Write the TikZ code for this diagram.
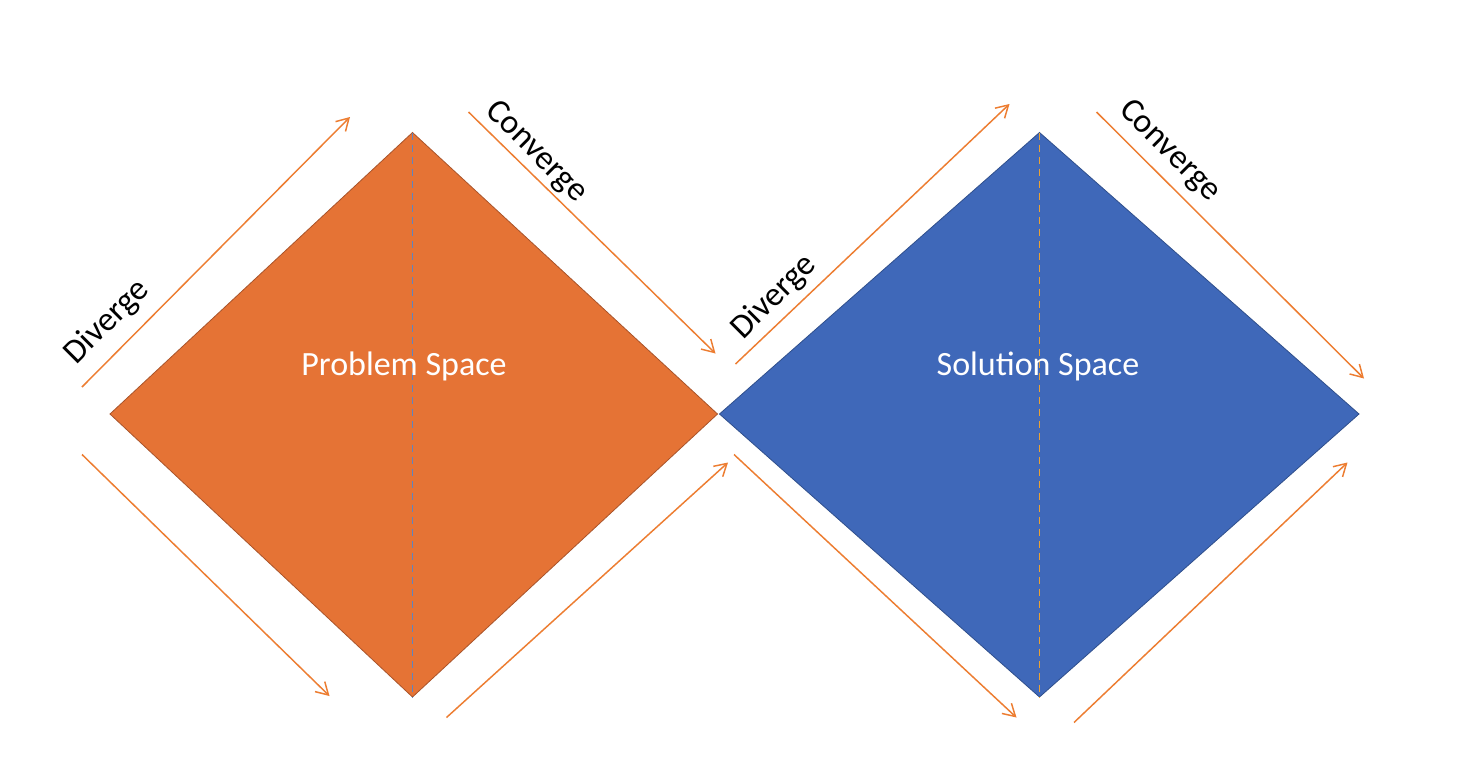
\documentclass[tikz,border=0pt]{standalone}
\usepackage{fontspec}
\setmainfont{Carlito}
\usetikzlibrary{arrows.meta}
\definecolor{orfill}{HTML}{E57335}
\definecolor{oredge}{HTML}{A9542A}
\definecolor{blfill}{HTML}{3F68B9}
\definecolor{bledge}{HTML}{2F4F8C}
\definecolor{arrcol}{HTML}{ED7D31}
\definecolor{dashblue}{HTML}{6084BE}
\definecolor{dashyellow}{HTML}{E9A236}
\tikzset{
  flow/.style={draw=arrcol, line width=1.1pt, -{Straight Barb[length=9pt,width=10.5pt]}},
  bigtxt/.style={font=\fontsize{25.5}{30}\selectfont, inner sep=0pt},
  midline/.style={line width=1.3pt, dash pattern=on 5.5pt off 3.5pt},
}
\begin{document}
\begin{tikzpicture}[x=0.75pt,y=-0.75pt]
\useasboundingbox (0,0) rectangle (1468,771);
\fill[white] (0,0) rectangle (1468,771);
% diamond vertices
\coordinate (pL) at (110,414);
\coordinate (pT) at (412.5,132.5);
\coordinate (pR) at (717.5,414);
\coordinate (pB) at (412.5,697);
\coordinate (sL) at (719.5,414);
\coordinate (sT) at (1039.5,132.5);
\coordinate (sR) at (1359,414);
\coordinate (sB) at (1039.5,697);
\filldraw[fill=orfill, draw=oredge, line width=0.6pt] (pL) -- (pT) -- (pR) -- (pB) -- cycle;
\filldraw[fill=blfill, draw=bledge, line width=0.6pt] (sL) -- (sT) -- (sR) -- (sB) -- cycle;
\draw[midline, draw=dashblue] (pT) -- (pB);
\draw[midline, draw=dashyellow] (sT) -- (sB);
% texts
\node[bigtxt, text=white, anchor=base] (ptxt) at (404,375) {Problem Space};
\node[bigtxt, text=white, anchor=base] (stxt) at (1038,375) {Solution Space};
% arrows
\coordinate (a1s) at (82,387);   \coordinate (a1e) at (350,117);
\coordinate (a2s) at (468.5,112);\coordinate (a2e) at (715.5,353.5);
\coordinate (a3s) at (82,454.5); \coordinate (a3e) at (329.5,696);
\coordinate (a4s) at (446.5,717.5);\coordinate (a4e) at (728,462.5);
\coordinate (a5s) at (735.5,364);\coordinate (a5e) at (1009.5,104);
\coordinate (a6s) at (1096.5,112);\coordinate (a6e) at (1364,378.5);
\coordinate (a7s) at (734,454.5);\coordinate (a7e) at (1016.5,717.5);
\coordinate (a8s) at (1074,722.5);\coordinate (a8e) at (1347.5,462.5);
\draw[flow] (a1s) -- (a1e);
\draw[flow] (a2s) -- (a2e);
\draw[flow] (a3s) -- (a3e);
\draw[flow] (a4s) -- (a4e);
\draw[flow] (a5s) -- (a5e);
\draw[flow] (a6s) -- (a6e);
\draw[flow] (a7s) -- (a7e);
\draw[flow] (a8s) -- (a8e);
% labels
\node[bigtxt, rotate=45] (d1) at (107,322) {Diverge};
\node[bigtxt, rotate=-45] (c1) at (536,152) {Converge};
\node[bigtxt, rotate=45] (d2) at (774,297) {Diverge};
\node[bigtxt, rotate=-45] (c2) at (1169.5,151) {Converge};
\end{tikzpicture}
\end{document}
